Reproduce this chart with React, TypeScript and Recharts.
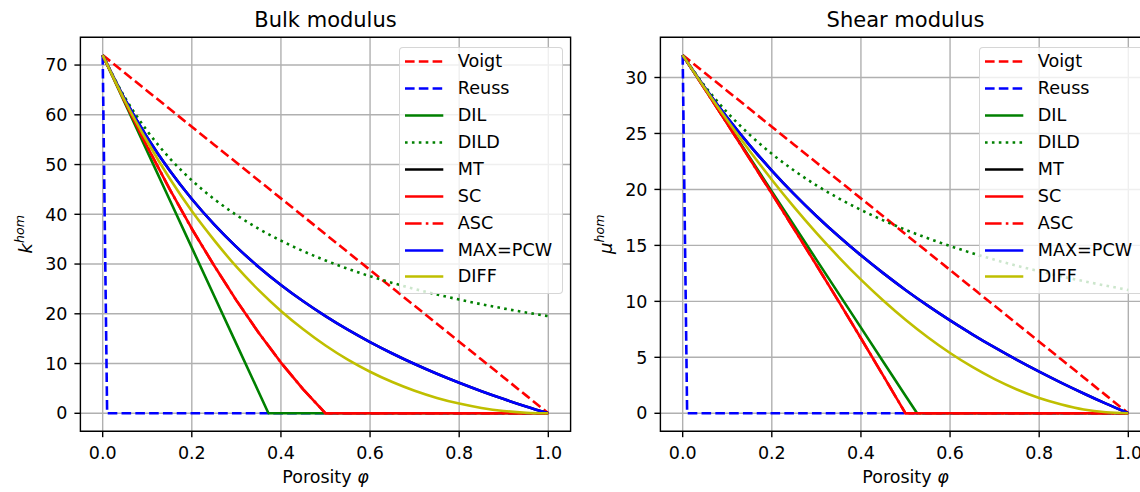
import React from 'react';
import { LineChart, Line, XAxis, YAxis, CartesianGrid, ReferenceArea } from 'recharts';

// ---------- data ----------
const PHI = [0, 0.05, 0.1, 0.15, 0.2, 0.25, 0.3, 0.35, 0.4, 0.45, 0.5, 0.55, 0.6, 0.65, 0.7, 0.75, 0.8, 0.85, 0.9, 0.95, 1.0];
const REUSS_PHI = [0, 0.01, 1.0];
const K_DIL_PHI = [0, 0.05, 0.1, 0.15, 0.2, 0.25, 0.3, 0.35, 0.372, 1.0];
const MU_DIL_PHI = [0, 0.05, 0.1, 0.15, 0.2, 0.25, 0.3, 0.35, 0.4, 0.45, 0.5, 0.526, 1.0];

const X_TICKS = [0, 0.2, 0.4, 0.6, 0.8, 1.0];
const K_TICKS = [0, 10, 20, 30, 40, 50, 60, 70];
const MU_TICKS = [0, 5, 10, 15, 20, 25, 30];

// Bulk modulus
const K_VOIGT = [72, 68.4, 64.8, 61.2, 57.6, 54, 50.4, 46.8, 43.2, 39.6, 36, 32.4, 28.8, 25.2, 21.6, 18, 14.4, 10.8, 7.2, 3.6, 0];
const K_REUSS = [72, 0, 0];
const K_DIL = [72, 62.33, 52.65, 42.98, 33.3, 23.63, 13.95, 4.28, 0, 0];
const K_DILD = [72, 63.47, 56.75, 51.31, 46.83, 43.07, 39.86, 37.1, 34.7, 32.59, 30.72, 29.05, 27.56, 26.21, 24.99, 23.88, 22.86, 21.92, 21.06, 20.26, 19.53];
const K_MT = [72, 63.08, 55.44, 48.84, 43.07, 37.98, 33.46, 29.42, 25.79, 22.51, 19.53, 16.8, 14.31, 12.02, 9.9, 7.94, 6.13, 4.44, 2.86, 1.38, 0];
const K_SC = [72, 62.6, 53.6, 45.1, 37.1, 29.7, 22.7, 16.2, 10.2, 4.8, 0, 0, 0, 0, 0, 0, 0, 0, 0, 0, 0];
const K_ASC = [72, 62.6, 53.6, 45.1, 37.1, 29.7, 22.7, 16.2, 10.2, 4.8, 0, 0, 0, 0, 0, 0, 0, 0, 0, 0, 0];
const K_PCW = [72, 63.08, 55.44, 48.84, 43.07, 37.98, 33.46, 29.42, 25.79, 22.51, 19.53, 16.8, 14.31, 12.02, 9.9, 7.94, 6.13, 4.44, 2.86, 1.38, 0];
const K_DIFF = [72, 62.78, 54.63, 47.24, 40.66, 34.82, 29.46, 24.75, 20.57, 16.88, 13.62, 10.78, 8.35, 6.28, 4.53, 3.09, 1.95, 1.08, 0.47, 0.12, 0];

// Shear modulus
const MU_VOIGT = [32, 30.4, 28.8, 27.2, 25.6, 24, 22.4, 20.8, 19.2, 17.6, 16, 14.4, 12.8, 11.2, 9.6, 8, 6.4, 4.8, 3.2, 1.6, 0];
const MU_REUSS = [32, 0, 0];
const MU_DIL = [32, 28.96, 25.91, 22.87, 19.82, 16.78, 13.73, 10.69, 7.65, 4.6, 1.56, 0, 0];
const MU_DILD = [32, 29.22, 26.88, 24.9, 23.18, 21.69, 20.37, 19.21, 18.17, 17.24, 16.4, 15.64, 14.94, 14.31, 13.72, 13.18, 12.69, 12.23, 11.8, 11.4, 11.02];
const MU_MT = [32, 29.09, 26.42, 23.96, 21.69, 19.58, 17.63, 15.81, 14.11, 12.52, 11.02, 9.62, 8.3, 7.06, 5.88, 4.77, 3.72, 2.72, 1.77, 0.86, 0];
const MU_SC = [32, 28.94, 25.87, 22.75, 19.63, 16.45, 13.25, 10.0, 6.7, 3.36, 0, 0, 0, 0, 0, 0, 0, 0, 0, 0, 0];
const MU_ASC = [32, 28.94, 25.87, 22.75, 19.63, 16.45, 13.25, 10.0, 6.7, 3.36, 0, 0, 0, 0, 0, 0, 0, 0, 0, 0, 0];
const MU_PCW = [32, 29.09, 26.42, 23.96, 21.69, 19.58, 17.63, 15.81, 14.11, 12.52, 11.02, 9.62, 8.3, 7.06, 5.88, 4.77, 3.72, 2.72, 1.77, 0.86, 0];
const MU_DIFF = [32, 29.02, 26.17, 23.45, 20.87, 18.42, 16.12, 13.96, 11.94, 10.08, 8.36, 6.8, 5.39, 4.14, 3.05, 2.13, 1.37, 0.79, 0.34, 0.09, 0];

const SERIES_NAMES = ['Voigt', 'Reuss', 'DIL', 'DILD', 'MT', 'SC', 'ASC', 'MAX=PCW', 'DIFF'];

// ---------- styles ----------
const FONT = "'DejaVu Sans', sans-serif";
const LW = 2.6;
const TICK_FS = 17.5;
const LABEL_FS = 17.5;
const STYLE: Record<string, { stroke: string; dash?: string; curve: 'linear' | 'monotone' }> = {
  Voigt: { stroke: '#ff0000', dash: '9.6 4.2', curve: 'linear' },
  Reuss: { stroke: '#0000ff', dash: '9.6 4.2', curve: 'linear' },
  DIL: { stroke: '#008000', curve: 'linear' },
  DILD: { stroke: '#008000', dash: '2.6 4.3', curve: 'monotone' },
  MT: { stroke: '#000000', curve: 'monotone' },
  SC: { stroke: '#ff0000', curve: 'linear' },
  ASC: { stroke: '#ff0000', dash: '16.6 4.2 2.6 4.2', curve: 'linear' },
  'MAX=PCW': { stroke: '#0000ff', curve: 'monotone' },
  DIFF: { stroke: '#bfbf00', curve: 'monotone' },
};

const CHART_W = 590.6;
const CHART_H = 492;
const YAXIS_W = 80.4;
const PLOT_W = 490.2;
const MARGIN_TOP = 37.2;
const XAXIS_H = 60.8;
const MARGIN_RIGHT = 20;

type SeriesMap = Record<string, [number[], number[]]>;

const BULK: SeriesMap = {
  Voigt: [PHI, K_VOIGT],
  Reuss: [REUSS_PHI, K_REUSS],
  DIL: [K_DIL_PHI, K_DIL],
  DILD: [PHI, K_DILD],
  MT: [PHI, K_MT],
  SC: [PHI, K_SC],
  ASC: [PHI, K_ASC],
  'MAX=PCW': [PHI, K_PCW],
  DIFF: [PHI, K_DIFF],
};

const SHEAR: SeriesMap = {
  Voigt: [PHI, MU_VOIGT],
  Reuss: [REUSS_PHI, MU_REUSS],
  DIL: [MU_DIL_PHI, MU_DIL],
  DILD: [PHI, MU_DILD],
  MT: [PHI, MU_MT],
  SC: [PHI, MU_SC],
  ASC: [PHI, MU_ASC],
  'MAX=PCW': [PHI, MU_PCW],
  DIFF: [PHI, MU_DIFF],
};

function LegendBox() {
  const rowH = 26.9;
  return (
    <div
      style={{
        position: 'absolute',
        left: YAXIS_W + PLOT_W - 8 - 163.4,
        top: MARGIN_TOP + 10.1,
        width: 163.4,
        height: 246.7,
        boxSizing: 'border-box',
        background: 'rgba(255,255,255,0.8)',
        border: '1.3px solid rgba(204,204,204,0.8)',
        borderRadius: 4,
        fontFamily: FONT,
        fontSize: 17.6,
        color: '#000',
      }}
    >
      {SERIES_NAMES.map((name, i) => {
        const st = STYLE[name];
        const cy = 13.4 + i * rowH;
        return (
          <div key={name} style={{ position: 'absolute', left: 0, top: cy - rowH / 2, height: rowH, width: '100%' }}>
            <svg width={50} height={rowH} style={{ position: 'absolute', left: 5.2, top: 0 }}>
              <line x1={0} y1={rowH / 2} x2={38.3} y2={rowH / 2} stroke={st.stroke} strokeWidth={LW} strokeDasharray={st.dash} />
            </svg>
            <span style={{ position: 'absolute', left: 57.6, top: 0, lineHeight: rowH + 'px', whiteSpace: 'nowrap' }}>{name}</span>
          </div>
        );
      })}
    </div>
  );
}

function Panel({ title, series, domain, yTicks, sym, left }: { title: string; series: SeriesMap; domain: [number, number]; yTicks: number[]; sym: string; left: number }) {
  const xLabel = (props: any) => {
    const vb = props.viewBox;
    return (
      <text x={vb.x + vb.width / 2} y={vb.y + 52} textAnchor="middle" fontFamily={FONT} fontSize={LABEL_FS} fill="#000">
        Porosity <tspan fontStyle="italic">φ</tspan>
      </text>
    );
  };
  const yLabel = (props: any) => {
    const vb = props.viewBox;
    const cx = vb.x + 32.5;
    const cy = MARGIN_TOP + 197;
    return (
      <text x={cx} y={cy} transform={`rotate(-90 ${cx} ${cy})`} textAnchor="middle" fontFamily={FONT} fontSize={18} fill="#000">
        <tspan fontStyle="italic">{sym}</tspan>
        <tspan fontStyle="italic" fontSize={12.6} dy={-8.2}>hom</tspan>
      </text>
    );
  };
  return (
    <div style={{ position: 'absolute', left, top: 0, width: CHART_W, height: CHART_H }}>
      <svg width={CHART_W} height={36} style={{ position: 'absolute', left: 0, top: 0 }}>
        <text x={YAXIS_W + PLOT_W / 2} y={26.5} textAnchor="middle" fontFamily={FONT} fontSize={21} fill="#000">
          {title}
        </text>
      </svg>
      <LineChart width={CHART_W} height={CHART_H} margin={{ top: MARGIN_TOP, right: MARGIN_RIGHT, bottom: 0, left: 0 }}>
        <CartesianGrid stroke="#b0b0b0" strokeWidth={1.4} horizontalValues={yTicks} verticalValues={X_TICKS} />
        <XAxis
          type="number"
          dataKey="x"
          domain={[-0.05, 1.05]}
          ticks={X_TICKS}
          allowDataOverflow
          height={XAXIS_H}
          tickFormatter={(v: number) => v.toFixed(1)}
          tick={{ fill: '#000', fontSize: TICK_FS, fontFamily: FONT }}
          tickLine={{ stroke: '#000', strokeWidth: 1.4 }}
          axisLine={false}
          tickSize={6}
          tickMargin={9}
          label={xLabel}
        />
        <YAxis
          type="number"
          domain={domain}
          ticks={yTicks}
          allowDataOverflow
          width={YAXIS_W}
          tick={{ fill: '#000', fontSize: TICK_FS, fontFamily: FONT }}
          tickLine={{ stroke: '#000', strokeWidth: 1.4 }}
          axisLine={false}
          tickSize={6}
          tickMargin={7}
          label={yLabel}
        />
        {SERIES_NAMES.map((name) => {
          const [xs, ys] = series[name];
          const st = STYLE[name];
          const data = xs.map((x, i) => ({ x, y: ys[i] }));
          return (
            <Line
              key={name}
              name={name}
              data={data}
              dataKey="y"
              type={st.curve}
              stroke={st.stroke}
              strokeWidth={LW}
              strokeDasharray={st.dash}
              strokeLinejoin="round"
              dot={false}
              activeDot={false}
              isAnimationActive={false}
            />
          );
        })}
        <ReferenceArea x1={-0.05} x2={1.05} y1={domain[0]} y2={domain[1]} fill="none" fillOpacity={0} stroke="#000" strokeWidth={1.4} strokeOpacity={1} />
      </LineChart>
      <LegendBox />
    </div>
  );
}

export default function App() {
  return (
    <div style={{ position: 'absolute', left: 0, top: 0, width: 1140, height: 492, overflow: 'hidden', background: '#fff' }}>
      <Panel title="Bulk modulus" series={BULK} domain={[-3.6, 75.6]} yTicks={K_TICKS} sym="k" left={0} />
      <Panel title="Shear modulus" series={SHEAR} domain={[-1.6, 33.6]} yTicks={MU_TICKS} sym="μ" left={580} />
    </div>
  );
}
